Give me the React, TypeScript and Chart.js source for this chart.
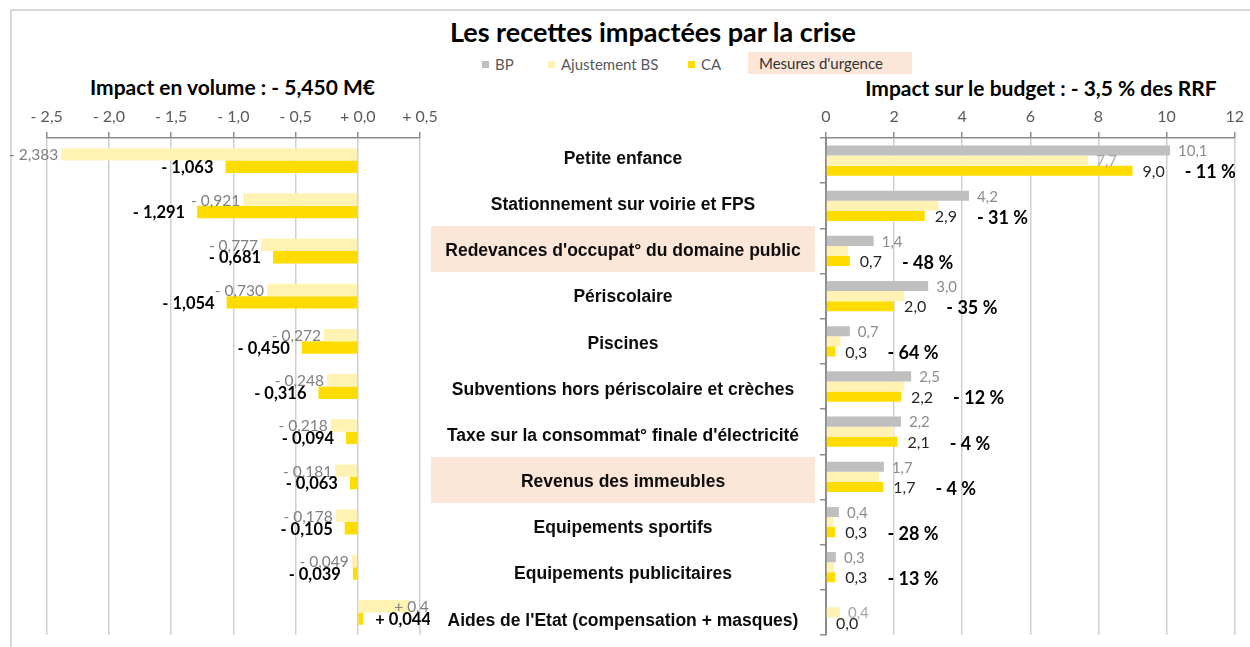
import React, { useEffect, useRef } from "react";
import { Chart, registerables } from "chart.js";

Chart.register(...registerables);

// ---------------- DATA ----------------
const categories = [
  "Petite enfance",
  "Stationnement sur voirie et FPS",
  "Redevances d'occupat° du domaine public",
  "Périscolaire",
  "Piscines",
  "Subventions hors périscolaire et crèches",
  "Taxe sur la consommat° finale d'électricité",
  "Revenus des immeubles",
  "Equipements sportifs",
  "Equipements publicitaires",
  "Aides de l'Etat (compensation + masques)",
];
const urgence = [false, false, true, false, false, false, false, true, false, false, false];

// Impact en volume (M€)
const volAjustement = [-2.383, -0.921, -0.777, -0.73, -0.272, -0.248, -0.218, -0.181, -0.178, -0.049, 0.413];
const volCA = [-1.063, -1.291, -0.681, -1.054, -0.45, -0.316, -0.094, -0.063, -0.105, -0.039, 0.044];
const volMin = -2.5;
const volMax = 0.5;
const volStep = 0.5;

// Impact sur le budget (M€)
const budgetBP = [10.1, 4.2, 1.4, 3.0, 0.7, 2.5, 2.2, 1.7, 0.38, 0.29, null];
const budgetAjustement = [7.7, 3.3, 0.64, 2.3, 0.43, 2.3, 2.0, 1.56, 0.2, 0.23, 0.41];
const budgetAjustementLabelShown = [true, false, false, false, false, false, false, false, false, false, true];
const budgetCA = [9.0, 2.9, 0.7, 2.0, 0.27, 2.2, 2.1, 1.68, 0.27, 0.27, 0.0];
const evolution = ["- 11 %", "- 31 %", "- 48 %", "- 35 %", "- 64 %", "- 12 %", "- 4 %", "- 4 %", "- 28 %", "- 13 %", null];
const budgetMin = 0;
const budgetMax = 12;
const budgetStep = 2;

const legendItems = [
  { label: "BP", color: "#BFBFBF" },
  { label: "Ajustement BS", color: "#FFF2B3" },
  { label: "CA", color: "#FFDC00" },
];

// ---------------- STYLE ----------------
const GRAY = "#BFBFBF";
const LIGHT = "#FFF2B3";
const GOLD = "#FFDC00";
const PEACH = "#FBE6D8";
const NUM_FONT = "Lato, 'Open Sans', sans-serif";
const CAT_FONT = "'Liberation Sans', Arial, sans-serif";

const fmtVol = (v: number) => (v < 0 ? "- " : "+ ") + Math.abs(v).toFixed(3).replace(".", ",");
const fmtTickVol = (v: number) => (v < -1e-9 ? "- " : "+ ") + Math.abs(v).toFixed(1).replace(".", ",");
const fmt1 = (v: number) => v.toFixed(1).replace(".", ",");

const volLabelPlugin = {
  id: "volLabels",
  afterDatasetsDraw(chart: any) {
    const ctx = chart.ctx;
    ctx.save();
    ctx.beginPath();
    ctx.rect(0, 0, 430, chart.height);
    ctx.clip();
    ctx.textBaseline = "middle";
    const mAj = chart.getDatasetMeta(0);
    const mCA = chart.getDatasetMeta(1);
    mAj.data.forEach((el: any, i: number) => {
      const v = volAjustement[i];
      ctx.font = `15.5px ${NUM_FONT}`;
      ctx.fillStyle = "#808080";
      if (v < 0) {
        ctx.textAlign = "right";
        ctx.fillText(fmtVol(v), el.x - 3, el.y + 1);
      } else {
        ctx.textAlign = "left";
        ctx.fillText(fmtVol(v), el.x - 15, el.y + 1);
      }
    });
    mCA.data.forEach((el: any, i: number) => {
      const v = volCA[i];
      ctx.font = `bold 16.5px ${NUM_FONT}`;
      ctx.fillStyle = "#000000";
      if (v < 0) {
        ctx.textAlign = "right";
        ctx.fillText(fmtVol(v), el.x - 12, el.y + 1);
      } else {
        ctx.textAlign = "left";
        ctx.fillText(fmtVol(v), el.x + 12, el.y + 1);
      }
    });
    ctx.restore();
  },
};

const budgetLabelPlugin = {
  id: "budgetLabels",
  afterDatasetsDraw(chart: any) {
    const ctx = chart.ctx;
    ctx.save();
    ctx.textBaseline = "middle";
    ctx.textAlign = "left";
    const mBP = chart.getDatasetMeta(0);
    const mAj = chart.getDatasetMeta(1);
    const mCA = chart.getDatasetMeta(2);
    mBP.data.forEach((el: any, i: number) => {
      const v = budgetBP[i];
      if (v === null || v === undefined) return;
      ctx.font = `15px ${NUM_FONT}`;
      ctx.fillStyle = "#8C8C8C";
      ctx.fillText(fmt1(v), el.x + 8, el.y + 1);
    });
    mAj.data.forEach((el: any, i: number) => {
      if (!budgetAjustementLabelShown[i]) return;
      ctx.font = `15px ${NUM_FONT}`;
      ctx.fillStyle = "#A6A6A6";
      ctx.fillText(fmt1(budgetAjustement[i]), el.x + 8, el.y + 1);
    });
    mCA.data.forEach((el: any, i: number) => {
      const v = budgetCA[i];
      ctx.font = `16px ${NUM_FONT}`;
      ctx.fillStyle = "#262626";
      const t = fmt1(v);
      ctx.fillText(t, el.x + 10, el.y + 1);
      const w = ctx.measureText(t).width;
      const p = evolution[i];
      if (p) {
        ctx.font = `bold 18px ${NUM_FONT}`;
        ctx.fillStyle = "#000000";
        ctx.fillText(p, el.x + 10 + w + 20, el.y + 2);
      }
    });
    ctx.restore();
  },
};

function VolumeChart() {
  const ref = useRef<HTMLCanvasElement>(null);
  useEffect(() => {
    if (!ref.current) return;
    const chart = new Chart(ref.current, {
      type: "bar",
      data: {
        labels: categories,
        datasets: [
          { label: "Ajustement BS", data: volAjustement, backgroundColor: LIGHT, borderWidth: 0 },
          { label: "CA", data: volCA, backgroundColor: GOLD, borderWidth: 0 },
        ],
      },
      options: {
        indexAxis: "y",
        responsive: false,
        animation: false,
        events: [],
        layout: { padding: { left: 46.7, right: 30, top: 100, bottom: 12 } },
        datasets: { bar: { categoryPercentage: 0.55, barPercentage: 1 } },
        plugins: { legend: { display: false }, tooltip: { enabled: false } },
        scales: {
          x: {
            position: "top",
            min: volMin,
            max: volMax,
            afterFit: (s: any) => {
              s.height = 38;
            },
            ticks: {
              stepSize: volStep,
              padding: 6,
              color: "#595959",
              font: { family: NUM_FONT, size: 16 },
              callback: (v: any) => fmtTickVol(Number(v)),
            },
            grid: { color: "#D0D0D0", lineWidth: 1.5, tickLength: 6, tickColor: "#8C8C8C", tickWidth: 1.5 },
            border: { display: true, color: "#8C8C8C", width: 1.5 },
          },
          y: { display: false },
        },
      } as any,
      plugins: [volLabelPlugin],
    });
    return () => chart.destroy();
  }, []);
  return (
    <canvas
      ref={ref}
      width={450}
      height={647}
      style={{ position: "absolute", left: 0, top: 0, width: 450, height: 647, zIndex: 2 }}
    />
  );
}

function BudgetChart() {
  const ref = useRef<HTMLCanvasElement>(null);
  useEffect(() => {
    if (!ref.current) return;
    const chart = new Chart(ref.current, {
      type: "bar",
      data: {
        labels: categories,
        datasets: [
          { label: "BP", data: budgetBP, backgroundColor: GRAY, borderWidth: 0 },
          { label: "Ajustement BS", data: budgetAjustement, backgroundColor: LIGHT, borderWidth: 0 },
          { label: "CA", data: budgetCA, backgroundColor: GOLD, borderWidth: 0 },
        ],
      },
      options: {
        indexAxis: "y",
        responsive: false,
        animation: false,
        events: [],
        layout: { padding: { left: 0, right: 10, top: 100, bottom: 12 } },
        datasets: { bar: { categoryPercentage: 0.67, barPercentage: 1 } },
        plugins: { legend: { display: false }, tooltip: { enabled: false } },
        scales: {
          x: {
            position: "top",
            min: budgetMin,
            max: budgetMax,
            afterFit: (s: any) => {
              s.height = 38;
            },
            ticks: {
              stepSize: budgetStep,
              padding: 6,
              color: "#595959",
              font: { family: NUM_FONT, size: 16 },
              callback: (v: any) => String(v),
            },
            grid: { color: "#D0D0D0", lineWidth: 1.5, tickLength: 6, tickColor: "#8C8C8C", tickWidth: 1.5 },
            border: { display: true, color: "#8C8C8C", width: 1.5 },
          },
          y: {
            afterFit: (s: any) => {
              s.width = 26;
            },
            ticks: { display: false },
            grid: { drawOnChartArea: false, tickLength: 6, color: "#8C8C8C", lineWidth: 1.5 },
            border: { display: true, color: "#8C8C8C", width: 2 },
          },
        },
      } as any,
      plugins: [budgetLabelPlugin],
    });
    return () => chart.destroy();
  }, []);
  return (
    <canvas
      ref={ref}
      width={450}
      height={647}
      style={{ position: "absolute", left: 800, top: 0, width: 450, height: 647, zIndex: 2 }}
    />
  );
}

export default function App() {
  useEffect(() => {
    document.body.style.margin = "0";
  }, []);
  const rowTop = (i: number) => 158 + 46.15 * i;
  return (
    <div
      style={{
        position: "relative",
        width: 1250,
        height: 647,
        overflow: "hidden",
        background: "#fff",
        fontFamily: NUM_FONT,
      }}
    >
      <div
        style={{
          position: "absolute",
          left: 10,
          top: 9,
          width: 1260,
          height: 660,
          borderLeft: "2px solid #D9D9D9",
          borderTop: "2px solid #D9D9D9",
        }}
      />
      <div
        style={{
          position: "absolute",
          left: 0,
          width: 1306,
          top: 15,
          textAlign: "center",
          fontWeight: "bold",
          fontSize: 27,
          color: "#000",
          whiteSpace: "nowrap",
          lineHeight: "34px",
        }}
      >
        Les recettes impactées par la crise
      </div>
      {/* legend */}
      {legendItems.map((it, k) => {
        const lefts = [482, 548, 688];
        return (
          <div
            key={it.label}
            style={{
              position: "absolute",
              left: lefts[k],
              top: 55,
              height: 18,
              display: "flex",
              alignItems: "center",
              fontSize: 15,
              color: "#595959",
              whiteSpace: "nowrap",
            }}
          >
            <span style={{ display: "inline-block", width: 7, height: 7, background: it.color, marginRight: 6 }} />
            {it.label}
          </div>
        );
      })}
      <div
        style={{
          position: "absolute",
          left: 748,
          top: 52,
          width: 164,
          height: 22,
          background: PEACH,
          fontSize: 15,
          color: "#333",
          lineHeight: "22px",
          paddingLeft: 11,
          boxSizing: "border-box",
          whiteSpace: "nowrap",
        }}
      >
        Mesures d'urgence
      </div>
      <div
        style={{
          position: "absolute",
          left: 0,
          width: 465,
          top: 74,
          textAlign: "center",
          fontWeight: "bold",
          fontSize: 21,
          lineHeight: "26px",
          whiteSpace: "nowrap",
        }}
      >
        Impact en volume : - 5,450 M€
      </div>
      <div
        style={{
          position: "absolute",
          left: 841,
          width: 400,
          top: 75,
          textAlign: "center",
          fontWeight: "bold",
          fontSize: 21,
          lineHeight: "26px",
          whiteSpace: "nowrap",
        }}
      >
        Impact sur le budget : - 3,5 % des RRF
      </div>
      {categories.map((c, i) =>
        urgence[i] ? (
          <div
            key={"bg" + i}
            style={{
              position: "absolute",
              left: 431,
              top: rowTop(i) - 24,
              width: 384,
              height: 46,
              background: PEACH,
              zIndex: 1,
            }}
          />
        ) : null
      )}
      {categories.map((c, i) => (
        <div
          key={c}
          style={{
            position: "absolute",
            left: 431,
            width: 384,
            top: rowTop(i) - 12,
            height: 24,
            lineHeight: "24px",
            textAlign: "center",
            fontFamily: CAT_FONT,
            fontWeight: "bold",
            fontSize: 17.5,
            color: "#0D0D0D",
            whiteSpace: "nowrap",
            zIndex: 3,
          }}
        >
          {c}
        </div>
      ))}
      <VolumeChart />
      <BudgetChart />
    </div>
  );
}
